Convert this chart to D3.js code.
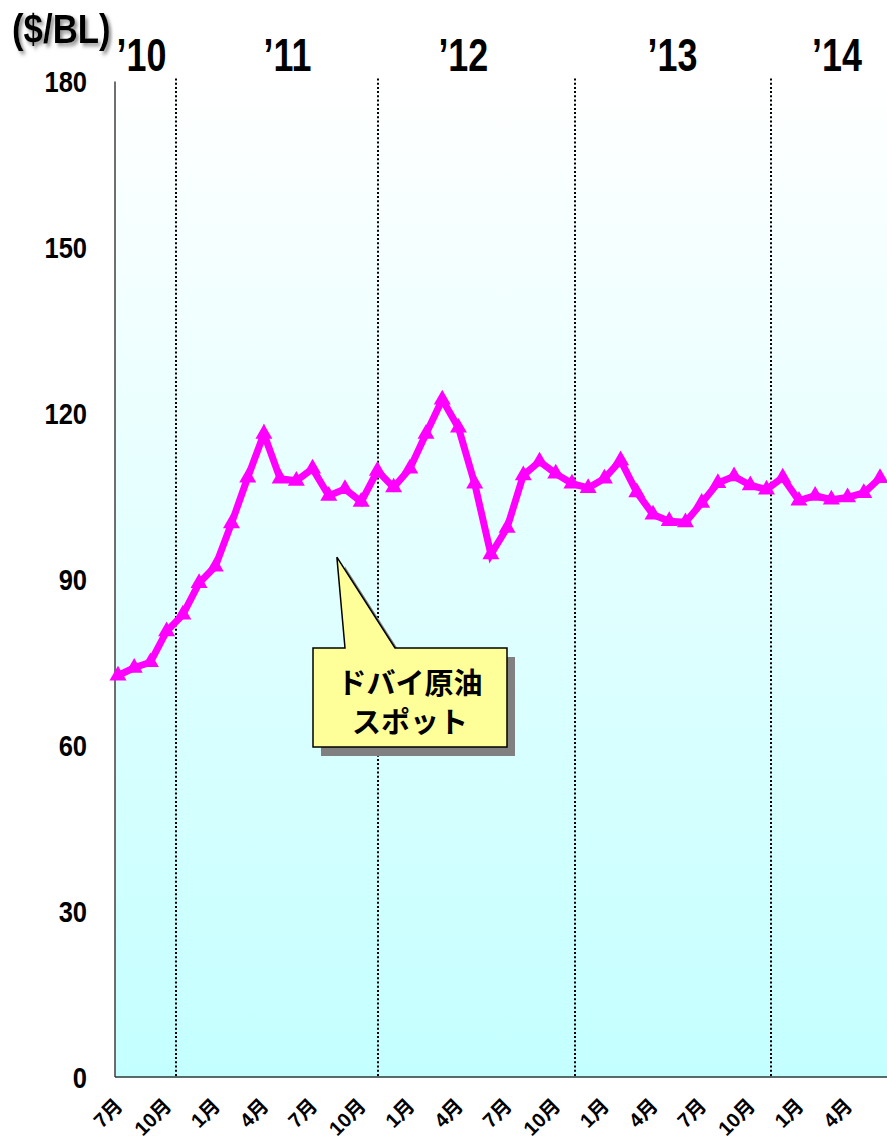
<!DOCTYPE html>
<html>
<head>
<meta charset="utf-8">
<script src="https://cdn.jsdelivr.net/npm/d3@7"></script>
<style>
  body { margin: 0; background: #fff; }
  svg { display: block; }
</style>
</head>
<body>
<script>
// Monthly Dubai crude spot price, Jul 2010 – Jun 2014 ($/BL)
const months = [
  "2010-07","2010-08","2010-09","2010-10","2010-11","2010-12",
  "2011-01","2011-02","2011-03","2011-04","2011-05","2011-06",
  "2011-07","2011-08","2011-09","2011-10","2011-11","2011-12",
  "2012-01","2012-02","2012-03","2012-04","2012-05","2012-06",
  "2012-07","2012-08","2012-09","2012-10","2012-11","2012-12",
  "2013-01","2013-02","2013-03","2013-04","2013-05","2013-06",
  "2013-07","2013-08","2013-09","2013-10","2013-11","2013-12",
  "2014-01","2014-02","2014-03","2014-04","2014-05","2014-06"
];
const dubaiSpot = [
  72.6, 74.0, 75.0, 80.6, 83.6, 89.3,
  92.3, 100.1, 108.4, 116.3, 108.2, 107.8,
  110.0, 105.1, 106.3, 104.0, 109.6, 106.6,
  110.0, 116.3, 122.5, 117.4, 107.3, 94.5,
  99.3, 108.8, 111.3, 109.1, 107.3, 106.5,
  108.2, 111.5, 105.7, 101.7, 100.5, 100.3,
  103.8, 107.4, 108.6, 107.0, 106.2, 108.4,
  104.2, 105.1, 104.4, 104.8, 105.6, 108.3
];
const monthTickLabels = ["7月","10月","1月","4月","7月","10月","1月","4月",
                         "7月","10月","1月","4月","7月","10月","1月","4月"];
const yearLabels = ["’10","’11","’12","’13","’14"];
const yTicks = [0, 30, 60, 90, 120, 150, 180];
const unitLabel = "($/BL)";
const seriesLabel = ["ドバイ原油", "スポット"];

// ---- layout ----
const W = 887, H = 1140;
const plotLeft = 115, plotRight = 887;
const x = d3.scaleLinear().domain([0, months.length - 1]).range([118, 880]);
const y = d3.scaleLinear().domain([0, 180]).range([1077, 81.5]);

// year divider positions and year label anchors, in month-index units
const dividerAt = [3.6, 16.05, 28.2, 40.3];
const yearLabelAt = [1.45, 10.45, 21.3, 34.2, 44.35];

const sansFont = "'Liberation Sans', Arial, sans-serif";

const svg = d3.select("body").append("svg")
  .attr("width", W).attr("height", H);

const defs = svg.append("defs");
const grad = defs.append("linearGradient")
  .attr("id", "bg").attr("x1", 0).attr("y1", 0).attr("x2", 0).attr("y2", 1);
grad.append("stop").attr("offset", "0%").attr("stop-color", "#ffffff");
grad.append("stop").attr("offset", "100%").attr("stop-color", "#c4ffff");

const sh = defs.append("filter").attr("id", "txtShadow")
  .attr("x", "-10%").attr("y", "-20%").attr("width", "130%").attr("height", "150%");
sh.append("feDropShadow").attr("dx", 3).attr("dy", 3)
  .attr("stdDeviation", 2).attr("flood-color", "#777").attr("flood-opacity", 0.8);

// plot background
svg.append("rect")
  .attr("x", plotLeft).attr("y", y(180))
  .attr("width", plotRight - plotLeft).attr("height", y(0) - y(180))
  .attr("fill", "url(#bg)");

// dotted year dividers
svg.append("g").selectAll("line").data(dividerAt).join("line")
  .attr("x1", d => Math.round(x(d))).attr("x2", d => Math.round(x(d)))
  .attr("y1", y(180) - 3).attr("y2", y(0))
  .attr("stroke", "#000").attr("stroke-width", 2)
  .attr("stroke-dasharray", "2,2.2");

// y axis line
svg.append("line")
  .attr("x1", plotLeft).attr("x2", plotLeft)
  .attr("y1", y(180)).attr("y2", y(0))
  .attr("stroke", "#222").attr("stroke-width", 1.3);

// y tick labels (condensed bold)
svg.append("g").selectAll("text").data(yTicks).join("text")
  .attr("transform", d => `translate(${plotLeft - 28},${y(d)}) scale(0.85,1)`)
  .attr("text-anchor", "end").attr("dy", "0.36em")
  .attr("font-family", sansFont)
  .attr("font-weight", "bold").attr("font-size", 30).attr("fill", "#000")
  .text(d => d);

// bottom baseline
svg.append("line")
  .attr("x1", plotLeft).attr("x2", plotRight)
  .attr("y1", y(0)).attr("y2", y(0))
  .attr("stroke", "#2a3a3a").attr("stroke-width", 1.5);

// month tick labels
svg.append("g").selectAll("text").data(monthTickLabels).join("text")
  .attr("transform", (d, i) => `translate(${x(i * 3) + 6},1107) rotate(-45)`)
  .attr("text-anchor", "end")
  .attr("font-family", "'Liberation Sans', 'Noto Sans CJK JP', sans-serif")
  .attr("font-weight", "bold").attr("font-size", 20).attr("fill", "#000")
  .text(d => d);

// year labels (condensed bold)
svg.append("g").selectAll("text").data(yearLabels).join("text")
  .attr("transform", (d, i) => `translate(${x(yearLabelAt[i])},71) scale(0.78,1)`)
  .attr("text-anchor", "middle")
  .attr("font-family", sansFont)
  .attr("font-weight", "bold").attr("font-size", 46).attr("fill", "#000")
  .text(d => d);

// unit label
svg.append("text")
  .attr("transform", "translate(12,43) scale(0.85,1)")
  .attr("font-family", sansFont)
  .attr("font-weight", "bold").attr("font-size", 41).attr("fill", "#000")
  .attr("filter", "url(#txtShadow)")
  .text(unitLabel);

// price line
const line = d3.line().x((d, i) => x(i)).y(d => y(d));
svg.append("path")
  .datum(dubaiSpot)
  .attr("d", line)
  .attr("fill", "none").attr("stroke", "#ff00ff")
  .attr("stroke-width", 7).attr("stroke-linejoin", "miter");

// triangle markers
const tri = d3.symbol().type(d3.symbolTriangle).size(125);
svg.append("g").selectAll("path").data(dubaiSpot).join("path")
  .attr("transform", (d, i) => `translate(${x(i)},${y(d)})`)
  .attr("d", tri).attr("fill", "#ff00ff");

// callout pointing at the series
const tipX = x(13.5), tipY = y(94.0);
const bx0 = 313, bx1 = 507, by0 = 648, by1 = 747;
const calloutPath = `M${bx0},${by0} L${bx0 + 32},${by0} L${tipX},${tipY} L${bx0 + 82},${by0}` +
  ` L${bx1},${by0} L${bx1},${by1} L${bx0},${by1} Z`;
svg.append("path").attr("d", calloutPath)
  .attr("transform", "translate(8,9)").attr("fill", "#808080");
svg.append("path").attr("d", calloutPath)
  .attr("fill", "#ffff99").attr("stroke", "#000").attr("stroke-width", 1.5);
svg.append("g").selectAll("text").data(seriesLabel).join("text")
  .attr("x", (bx0 + bx1) / 2)
  .attr("y", (d, i) => 694 + i * 39)
  .attr("text-anchor", "middle")
  .attr("font-family", "'Noto Sans CJK JP', sans-serif")
  .attr("font-weight", "bold").attr("font-size", 29).attr("fill", "#000")
  .text(d => d);
</script>
</body>
</html>
